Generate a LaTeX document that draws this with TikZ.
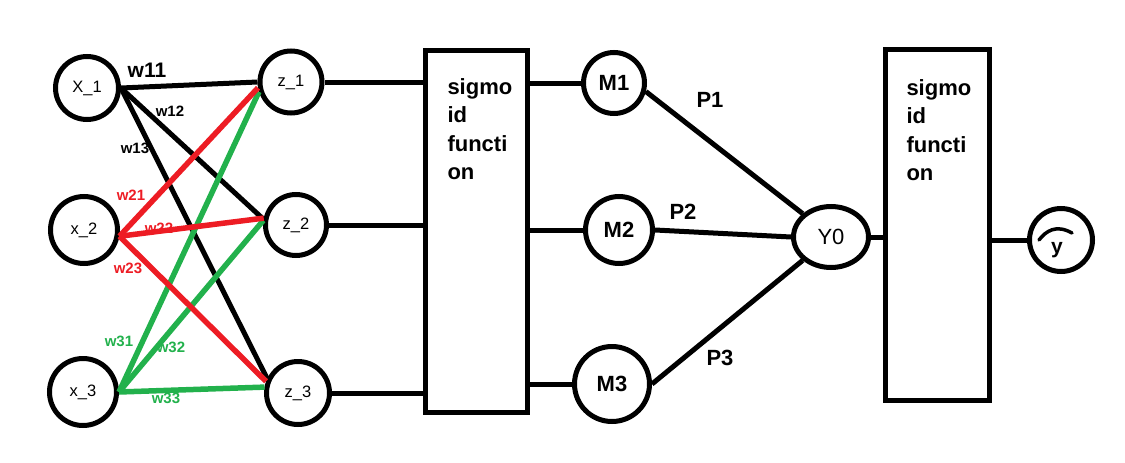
\documentclass[tikz,border=0pt]{standalone}
\usepackage{fontspec}
\setmainfont{Liberation Sans}
\usetikzlibrary{shapes.geometric}
\definecolor{pred}{RGB}{237,28,36}
\definecolor{pgreen}{RGB}{34,177,76}
\begin{document}
\begin{tikzpicture}[x=1pt,y=-1pt,line width=5pt,
  neuron/.style={draw,circle,inner sep=0pt,font=\fontsize{16.5}{16.5}\selectfont},
  mnode/.style={draw,circle,inner sep=0pt,font=\bfseries\fontsize{22}{22}\selectfont},
  sigbox/.style={draw,rectangle,inner sep=0pt},
  sigtext/.style={anchor=north west,inner sep=0pt,align=left,font=\bfseries\fontsize{22}{28.5}\selectfont},
  wlab/.style={inner sep=0pt,font=\bfseries\fontsize{15}{15}\selectfont},
  plab/.style={inner sep=0pt,font=\bfseries\fontsize{22}{22}\selectfont},
  redw/.style={draw=pred,line width=5.5pt},
  greenw/.style={draw=pgreen,line width=5.5pt},
  blackw/.style={draw=black,line width=5pt}]
\useasboundingbox (0,0) rectangle (1125,463);

% input neurons
\node[neuron,minimum size=63pt] (x1) at (87,88) {X\_1};
\node[neuron,minimum size=67pt] (x2) at (84,230) {x\_2};
\node[neuron,minimum size=67pt] (x3) at (83,392) {x\_3};
% hidden neurons
\node[neuron,minimum size=62pt] (z1) at (291,82) {z\_1};
\node[neuron,minimum size=61pt] (z2) at (296,225) {z\_2};
\node[neuron,minimum size=63pt] (z3) at (298,393) {z\_3};

% weight labels
\node[inner sep=0pt,font=\bfseries\fontsize{21}{21}\selectfont] (w11) at (147,70) {w11};
\node[wlab] (w12) at (170,111) {w12};
\node[wlab] (w13) at (135,148) {w13};
\node[wlab,text=pred] (w21) at (131,195) {w21};
\node[wlab,text=pred] (w22) at (159,228) {w22};
\node[wlab,text=pred] (w23) at (128,268) {w23};
\node[wlab,text=pgreen] (w31) at (119,341) {w31};
\node[wlab,text=pgreen] (w32) at (171,347) {w32};
\node[wlab,text=pgreen] (w33) at (166,398) {w33};

% weights
\draw[blackw] (x1.east) -- (z1.west);
\draw[blackw] (x1.east) -- (z2.170);
\draw[blackw] (x1.east) -- (z3.155);
\draw[greenw] (x3.east) -- (z1.197);
\draw[greenw] (x3.east) -- (z2.172);
\draw[greenw] (x3.east) -- (z3.170);
\draw[redw] (x2.350) -- (z1.190);
\draw[redw] (x2.350) -- (z2.168);
\draw[redw] (x2.350) -- (z3.160);

% first sigmoid box
\node[sigbox,minimum width=102pt,minimum height=362pt] (s1) at (476.5,231.5) {};
\node[sigtext] (s1t) at (445,76) {sigmo\\id\\functi\\on};
\draw (z1.east) -- (z1.east -| s1.west);
\draw (z2.east) -- (z2.east -| s1.west);
\draw (z3.east) -- (z3.east -| s1.west);

% M nodes
\node[mnode,minimum size=61pt] (m1) at (614,83) {M1};
\node[mnode,minimum size=67pt] (m2) at (619,230) {M2};
\node[mnode,minimum size=75pt] (m3) at (612,384) {M3};
\draw (m1.west -| s1.east) -- (m1.west);
\draw (m2.west -| s1.east) -- (m2.west);
\draw (m3.west -| s1.east) -- (m3.west);

% output node
\node[draw,ellipse,inner sep=0pt,minimum width=75pt,minimum height=61pt,font=\fontsize{22}{22}\selectfont] (y0) at (831,237) {Y0};
\draw (m1.-15) -- (y0.north west);
\draw (m2.east) -- (y0.west);
\draw (m3.east) -- (y0.south west);
\node[plab] (p1) at (710,100) {P1};
\node[plab] (p2) at (683,212) {P2};
\node[plab] (p3) at (720,358) {P3};

% second sigmoid box
\node[sigbox,minimum width=104pt,minimum height=351pt] (s2) at (937.5,225) {};
\node[sigtext] (s2t) at (904,77) {sigmo\\id\\functi\\on};
\draw (y0.east) -- (y0.east -| s2.west);

% y hat
\node[draw,circle,inner sep=0pt,minimum size=63pt] (yh) at (1061,240) {};
\node[inner sep=0pt,font=\bfseries\fontsize{21}{21}\selectfont] (ytext) at (1057,250) {y};
\draw[line width=3.5pt,line cap=round] (1039,240) .. controls (1046,231) and (1056,224) .. (1072,233);
\draw (yh.west -| s2.east) -- (yh.west);
\end{tikzpicture}
\end{document}
